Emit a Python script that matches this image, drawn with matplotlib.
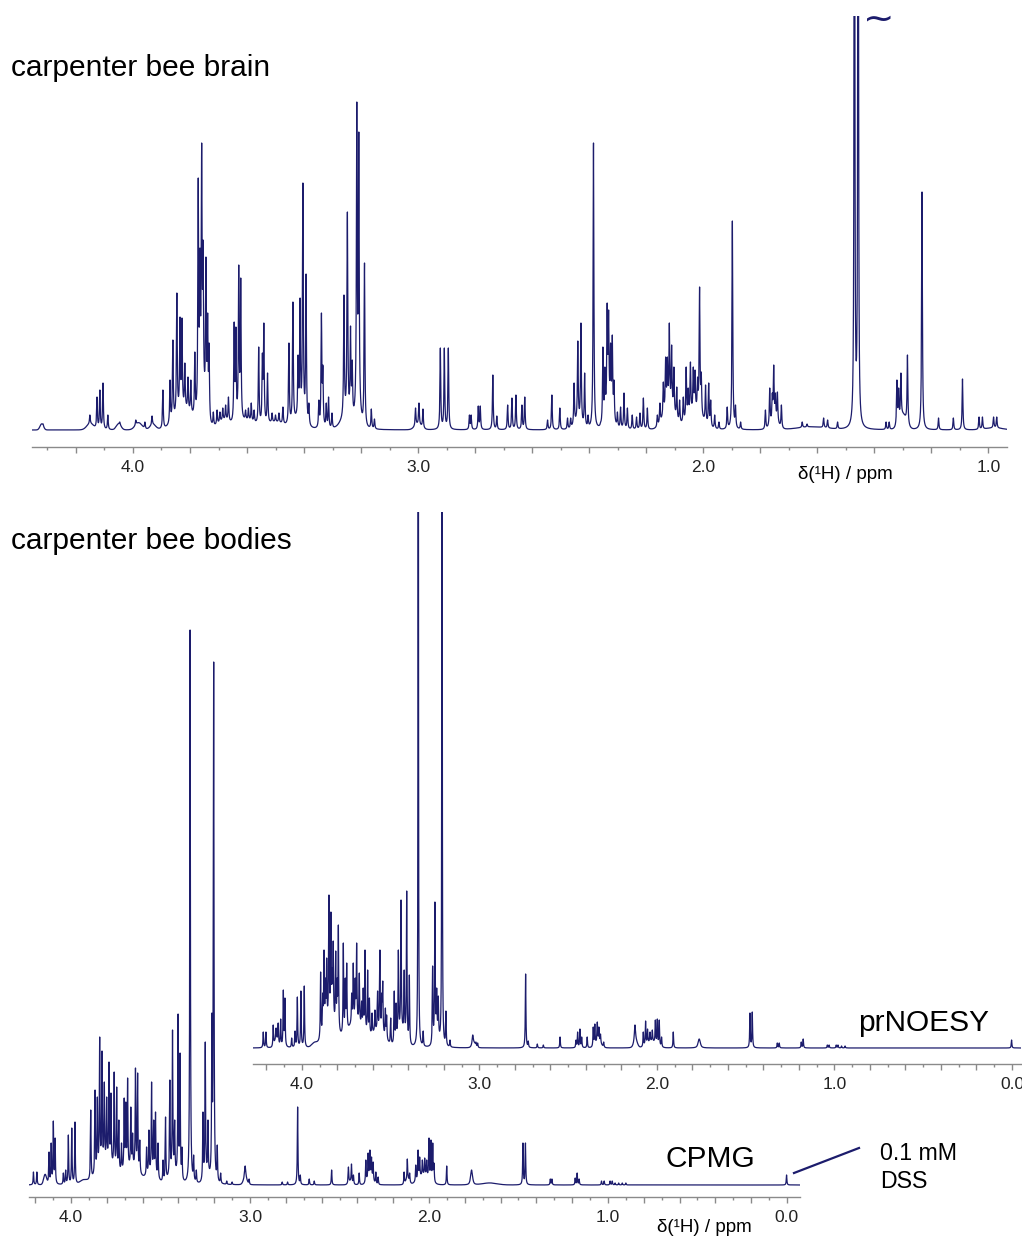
import numpy as np
import matplotlib
matplotlib.use("Agg")
import matplotlib.pyplot as plt
from matplotlib.ticker import MultipleLocator, FuncFormatter
from matplotlib.lines import Line2D

plt.rcParams['font.family'] = ['Liberation Sans', 'DejaVu Sans']

# peak lists: (ppm, height[, half width]) ; heights in pixels above baseline
brain_peaks = [
    (4.315, 6), (4.151, 15), (4.126, 33), (4.116, 40), (4.105, 47), (4.088, 15),
    (4.046, 8), (3.99, 10), (3.958, 8), (3.933, 14),
    (3.895, 40), (3.870, 50), (3.860, 90), (3.846, 137), (3.835, 113), (3.828, 112),
    (3.818, 67), (3.807, 53), (3.797, 50), (3.783, 78), (3.771, 252), (3.765, 182),
    (3.759, 287), (3.754, 190), (3.744, 173), (3.738, 117), (3.733, 87),
    (3.718, 18), (3.705, 20), (3.695, 18), (3.685, 22), (3.675, 25), (3.665, 33),
    (3.645, 108), (3.639, 103), (3.629, 165), (3.622, 152),
    (3.605, 20), (3.595, 22), (3.585, 27), (3.575, 20),
    (3.559, 83), (3.546, 77), (3.541, 107), (3.528, 57),
    (3.512, 17), (3.500, 15), (3.488, 17),
    (3.474, 23), (3.453, 87), (3.439, 128), (3.421, 75), (3.414, 132), (3.404, 247),
    (3.393, 156), (3.383, 27),
    (3.348, 30), (3.339, 117), (3.334, 65), (3.322, 27), (3.314, 33), (3.302, 17),
    (3.260, 135), (3.248, 218), (3.237, 104), (3.231, 70), (3.215, 328), (3.208, 298),
    (3.188, 167), (3.164, 21), (3.153, 11),
    (3.009, 22), (2.997, 27), (2.983, 21),
    (2.922, 82), (2.908, 82), (2.894, 82),
    (2.820, 15), (2.814, 15), (2.789, 24), (2.782, 24),
    (2.738, 55), (2.724, 14),
    (2.686, 25), (2.671, 32), (2.657, 35), (2.636, 25), (2.626, 33),
    (2.546, 10), (2.531, 35), (2.503, 22), (2.476, 12), (2.465, 12),
    (2.453, 47), (2.440, 89), (2.429, 107), (2.416, 57), (2.404, 15),
    (2.385, 287), (2.360, 8),
    (2.352, 83), (2.345, 63), (2.337, 127), (2.332, 120), (2.325, 87), (2.319, 95), (2.313, 50),
    (2.301, 18), (2.290, 23), (2.278, 37), (2.266, 22), (2.249, 15), (2.234, 13),
    (2.222, 17), (2.210, 32), (2.196, 22),
    (2.161, 15), (2.152, 27), (2.140, 48), (2.132, 73), (2.126, 73), (2.119, 107),
    (2.111, 85), (2.103, 63), (2.093, 43), (2.083, 30), (2.070, 33), (2.060, 63),
    (2.053, 42), (2.045, 68), (2.035, 63), (2.029, 60), (2.020, 53), (2.013, 143),
    (2.007, 58), (1.992, 45), (1.981, 47), (1.974, 30), (1.960, 15), (1.945, 8),
    (1.916, 23), (1.898, 209), (1.887, 25), (1.869, 8),
    (1.782, 20), (1.767, 42), (1.758, 37), (1.753, 65), (1.747, 37), (1.740, 38), (1.726, 25),
    (1.653, 8), (1.636, 6), (1.578, 12), (1.564, 10), (1.529, 8),
    (1.470, 1500, 0.001), (1.457, 1500, 0.001),
    (1.359, 8), (1.348, 8),
    (1.321, 50), (1.315, 42), (1.307, 57), (1.284, 75),
    (1.233, 238),
    (1.175, 12), (1.123, 12), (1.091, 51),
    (1.033, 13), (1.021, 13), (0.982, 13), (0.971, 13),
]
brain_broad = [
    (4.32, 6, 0.006), (4.15, 6, 0.012), (4.05, 6, 0.008), (3.98, 7, 0.012),
    (3.93, 5, 0.01), (3.82, 18, 0.03), (3.755, 25, 0.01), (3.68, 8, 0.02),
    (3.60, 8, 0.03), (3.50, 7, 0.03), (3.42, 9, 0.02), (3.25, 12, 0.02),
    (3.21, 15, 0.008), (3.00, 5, 0.012), (2.44, 7, 0.012), (2.33, 18, 0.012),
    (2.12, 20, 0.02), (2.03, 17, 0.025), (1.75, 9, 0.012), (1.30, 14, 0.012),
    (1.62, 3, 0.05), (0.98, 2, 0.03),
]

cpmg_peaks = [
    (4.210, 13), (4.191, 13),
    (4.123, 33), (4.111, 42), (4.099, 64), (4.089, 47),
    (4.043, 12), (4.030, 15), (4.015, 50), (3.996, 57), (3.978, 63),
    (3.890, 75), (3.866, 95), (3.853, 88), (3.840, 148), (3.827, 134), (3.814, 103),
    (3.801, 88), (3.788, 123), (3.777, 92), (3.759, 113), (3.745, 98), (3.733, 65),
    (3.718, 42), (3.703, 87), (3.694, 83), (3.684, 107), (3.666, 78), (3.656, 52),
    (3.640, 117), (3.628, 112), (3.616, 45), (3.578, 38), (3.565, 55), (3.550, 103),
    (3.538, 65), (3.528, 73), (3.514, 42), (3.486, 25), (3.472, 68), (3.448, 105),
    (3.433, 155), (3.421, 65), (3.402, 171), (3.391, 132), (3.380, 38),
    (3.335, 555), (3.315, 30), (3.300, 15),
    (3.263, 73), (3.250, 143), (3.235, 65), (3.213, 172), (3.203, 523),
    (3.183, 40), (3.164, 12),
    (3.13, 4), (3.10, 3),
    (3.027, 19, 0.004), (3.005, 6),
    (2.82, 3), (2.79, 3),
    (2.734, 78), (2.719, 10), (2.669, 6), (2.641, 4),
    (2.544, 15),
    (2.450, 18), (2.433, 21), (2.422, 10), (2.390, 12),
    (2.353, 25), (2.340, 32), (2.330, 35), (2.321, 28), (2.312, 23), (2.297, 13), (2.284, 8),
    (2.139, 13), (2.121, 26), (2.108, 12),
    (2.074, 20), (2.061, 35), (2.052, 28), (2.037, 25), (2.024, 27), (2.013, 25),
    (2.000, 47), (1.989, 45), (1.979, 42), (1.972, 22),
    (1.901, 19), (1.762, 15, 0.006),
    (1.475, 42), (1.461, 42),
    (1.322, 6), (1.313, 6),
    (1.183, 7), (1.172, 12), (1.161, 6),
    (1.036, 4), (1.021, 4), (0.988, 4), (0.976, 4),
    (0.96, 2), (0.94, 2), (0.92, 2), (0.90, 2),
    (0.002, 10),
]
cpmg_broad = [
    (4.145, 10, 0.008), (3.93, 4, 0.02), (3.80, 20, 0.05), (3.66, 16, 0.04),
    (3.55, 10, 0.03), (3.43, 10, 0.025), (3.24, 8, 0.015), (3.027, 6, 0.01),
    (2.33, 7, 0.015), (2.44, 3, 0.01), (2.12, 5, 0.01), (2.03, 9, 0.03),
    (1.762, 4, 0.006), (1.66, 2, 0.04),
]

noesy_peaks = [
    (4.218, 16), (4.203, 16), (4.162, 23), (4.146, 20),
    (4.134, 25), (4.120, 29), (4.105, 58), (4.096, 50),
    (4.058, 10), (4.039, 17), (4.026, 51), (4.006, 57), (3.987, 62),
    (3.895, 76), (3.883, 55), (3.876, 98), (3.868, 70), (3.861, 90), (3.848, 153),
    (3.837, 136), (3.830, 80), (3.824, 107), (3.810, 97), (3.802, 70), (3.795, 123),
    (3.767, 105), (3.756, 70), (3.748, 85), (3.720, 55), (3.711, 85), (3.700, 70),
    (3.692, 105), (3.677, 75), (3.664, 47), (3.655, 60), (3.645, 98), (3.630, 78),
    (3.620, 50), (3.605, 35), (3.589, 38), (3.574, 57), (3.561, 98), (3.550, 55),
    (3.545, 67), (3.530, 40), (3.523, 33), (3.500, 30), (3.480, 57), (3.470, 45),
    (3.457, 98), (3.442, 148), (3.424, 78), (3.410, 157), (3.395, 73),
    (3.345, 1500, 0.001), (3.317, 17),
    (3.264, 82), (3.251, 146), (3.241, 60), (3.232, 52), (3.211, 1500, 0.001),
    (3.189, 37), (3.166, 8),
    (3.038, 13, 0.004), (3.02, 6), (3.01, 5),
    (2.740, 74), (2.725, 7), (2.674, 4), (2.640, 3),
    (2.546, 11),
    (2.456, 8), (2.447, 16), (2.434, 19), (2.424, 11), (2.393, 11),
    (2.359, 21), (2.350, 24), (2.336, 26), (2.327, 21), (2.318, 14), (2.300, 6),
    (2.124, 23, 0.004),
    (2.077, 16), (2.064, 27), (2.053, 19), (2.039, 16), (2.026, 18), (2.009, 28),
    (1.998, 29), (1.987, 28), (1.974, 11),
    (1.908, 16), (1.762, 9, 0.008),
    (1.476, 35), (1.463, 36),
    (1.322, 5), (1.311, 5),
    (1.187, 6), (1.176, 9),
    (1.04, 3), (1.03, 3), (0.99, 3), (0.98, 3), (0.96, 2), (0.94, 2),
    (0.002, 8),
]
noesy_broad = [
    (4.145, 8, 0.01), (3.93, 4, 0.015), (3.84, 25, 0.035), (3.70, 25, 0.045),
    (3.57, 16, 0.035), (3.44, 15, 0.02), (3.24, 10, 0.012), (3.03, 4, 0.01),
    (2.33, 6, 0.015), (2.12, 6, 0.01), (2.03, 6, 0.025), (1.762, 3, 0.006),
]

navy = '#1c1c6c'
axis_grey = '#8a8a8a'


def broad_part(x, broad):
    y = np.zeros_like(x, dtype=float)
    for pos, h, s in broad:
        y += h * np.exp(-0.5 * ((x - pos) / s) ** 2)
    return y


def make_spectrum(grid, peaks, broad, width):
    pos = np.array([p[0] for p in peaks])
    hts = np.array([p[1] for p in peaks], dtype=float)
    wid = np.array([p[2] if len(p) > 2 else width for p in peaks])
    # amplitudes so that the summed lines hit the read heights at each peak position
    target = np.clip(hts - broad_part(pos, broad), 0.5, None)
    A = wid[None, :] ** 2 / (wid[None, :] ** 2 + (pos[:, None] - pos[None, :]) ** 2)
    amp = np.clip(np.linalg.solve(A, target), 0.3, None)
    y = broad_part(grid, broad)
    for p0, a, w in zip(pos, amp, wid):
        y += a * w ** 2 / (w ** 2 + (grid - p0) ** 2)
    return y


def tick_label(v, pos):
    if abs(v - round(v)) < 1e-6:
        return f"{abs(round(v)):.1f}"
    return ""


def setup_axis(ax, xlim, ylim):
    ax.set_xlim(*xlim)
    ax.set_ylim(*ylim)
    ax.patch.set_alpha(0)
    for s in ['top', 'left', 'right']:
        ax.spines[s].set_visible(False)
    ax.spines['bottom'].set_color(axis_grey)
    ax.spines['bottom'].set_linewidth(1.0)
    ax.yaxis.set_visible(False)
    ax.xaxis.set_major_locator(MultipleLocator(0.2))
    ax.xaxis.set_minor_locator(MultipleLocator(0.1))
    ax.xaxis.set_major_formatter(FuncFormatter(tick_label))
    ax.tick_params(axis='x', which='major', length=4.5, width=1.0, color=axis_grey,
                   labelsize=12.5, labelcolor='#222222', pad=5)
    ax.tick_params(axis='x', which='minor', length=2.2, width=1.0, color=axis_grey)


W, H = 1022, 1236
fig = plt.figure(figsize=(W / 100, H / 100), dpi=100)


def px_axes(left, right, top, bottom):
    return fig.add_axes([left / W, 1 - bottom / H, (right - left) / W, (bottom - top) / H])


# top panel: brain
ax1 = px_axes(32, 1007, 16, 447)
xl1 = (4.354, 0.935)
g1 = np.arange(xl1[1], xl1[0], 0.0002)
ax1.plot(g1, make_spectrum(g1, brain_peaks, brain_broad, 0.0016), color=navy, lw=0.9)
setup_axis(ax1, xl1, (-17, 414))

# bottom panel: CPMG
ax2 = px_axes(29, 800, 600, 1197)
xl2 = (4.235, -0.073)
g2 = np.arange(xl2[1], xl2[0], 0.0002)
ax2.plot(g2, make_spectrum(g2, cpmg_peaks, cpmg_broad, 0.002), color=navy, lw=0.9)
setup_axis(ax2, xl2, (-12, 585))

# bottom panel: prNOESY (offset)
ax3 = px_axes(253, 1021, 512, 1064)
xl3 = (4.276, -0.051)
g3 = np.arange(xl3[1], xl3[0], 0.0002)
ax3.plot(g3, make_spectrum(g3, noesy_peaks, noesy_broad, 0.002), color=navy, lw=0.9)
setup_axis(ax3, xl3, (-16, 536))


def ftext(x, y, s, **kw):
    fig.text(x / W, 1 - y / H, s, **kw)


ftext(11, 76, "carpenter bee brain", fontsize=21.5, va='baseline')
ftext(11, 549, "carpenter bee bodies", fontsize=21.5, va='baseline')
ftext(858, 1031, "prNOESY", fontsize=21.5, va='baseline')
ftext(665, 1167, "CPMG", fontsize=21.5, va='baseline')
ftext(880, 1160, "0.1 mM", fontsize=16.7, va='baseline')
ftext(880, 1188, "DSS", fontsize=16.7, va='baseline')
ftext(845, 474, "δ(¹H) / ppm", fontsize=13.5, ha='center', va='center')
ftext(704, 1227, "δ(¹H) / ppm", fontsize=13.5, ha='center', va='center')
# truncation mark on the tall doublet
ftext(879, 30, "~", fontsize=27, ha='center', va='baseline', color=navy, family='DejaVu Sans')

fig.add_artist(Line2D([794 / W, 859 / W], [1 - 1173 / H, 1 - 1148 / H], color=navy, lw=1.6))

fig.savefig("out.png", dpi=100)
